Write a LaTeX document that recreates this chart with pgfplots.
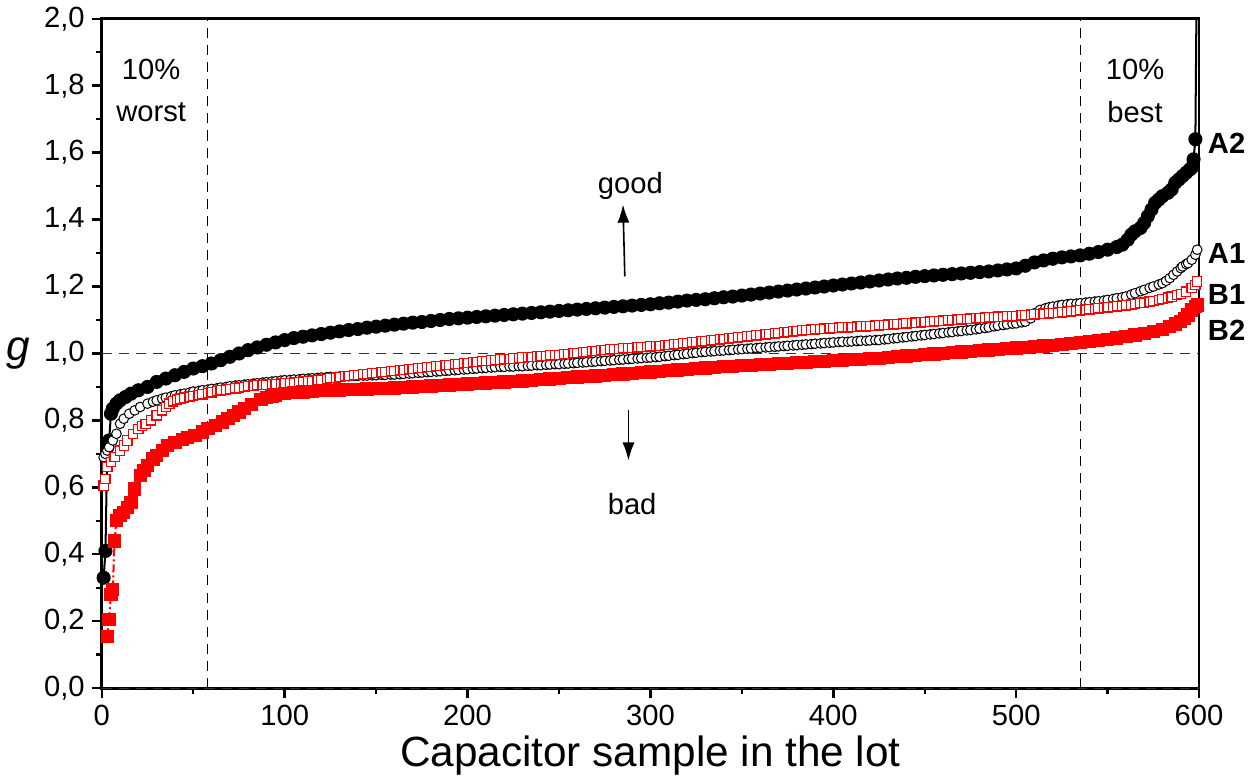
\documentclass[border=0pt]{standalone}
\usepackage{fontspec}
\setmainfont{Liberation Sans}
\usepackage{pgfplots}
\usepackage{pgfplotstable}
\pgfplotsset{compat=1.18}
\usetikzlibrary{arrows.meta}

% g of each lot, sorted
\pgfplotstableread{
x y
1 0.33
2 0.41
3 0.72
4 0.74
5 0.82
6 0.835
8 0.85
10 0.86
13 0.87
16 0.88
20 0.89
25 0.90
30 0.915
35 0.925
40 0.935
45 0.945
50 0.955
55 0.962
60 0.97
65 0.98
70 0.99
75 1.0
80 1.01
85 1.018
90 1.026
95 1.033
100 1.04
105 1.046
110 1.05
115 1.054
120 1.058
125 1.062
130 1.066
135 1.07
140 1.073
145 1.077
150 1.08
155 1.083
160 1.086
165 1.089
170 1.092
175 1.094
180 1.097
185 1.10
190 1.103
195 1.105
200 1.107
205 1.109
210 1.111
215 1.113
220 1.115
225 1.117
230 1.119
235 1.121
240 1.123
245 1.125
250 1.127
255 1.129
260 1.131
265 1.133
270 1.135
275 1.137
280 1.139
285 1.141
290 1.143
295 1.145
300 1.147
305 1.150
310 1.152
315 1.155
320 1.158
325 1.16
330 1.162
335 1.165
340 1.168
345 1.17
350 1.173
355 1.176
360 1.179
365 1.182
370 1.185
375 1.188
380 1.191
385 1.194
390 1.197
395 1.20
400 1.203
405 1.206
410 1.209
415 1.212
420 1.215
425 1.218
430 1.221
435 1.224
440 1.226
445 1.229
450 1.231
455 1.233
460 1.235
465 1.237
470 1.239
475 1.241
480 1.243
485 1.245
490 1.248
495 1.251
500 1.254
505 1.262
510 1.272
515 1.278
520 1.283
525 1.287
530 1.29
535 1.293
540 1.298
545 1.303
550 1.31
555 1.318
558 1.325
561 1.34
563 1.355
565 1.365
568 1.375
570 1.39
572 1.41
574 1.43
576 1.45
578 1.46
580 1.47
583 1.48
585 1.49
587 1.51
589 1.52
591 1.53
593 1.54
595 1.55
596 1.555
597 1.58
598 1.64
599 2.3
}\dataAtwo

\pgfplotstableread{
x y
1 0.69
2 0.70
3 0.71
4 0.72
6 0.74
8 0.76
10 0.79
12 0.805
15 0.82
18 0.83
21 0.84
25 0.85
28 0.856
30 0.86
33 0.865
35 0.868
38 0.872
40 0.875
43 0.878
45 0.88
48 0.883
50 0.886
53 0.888
55 0.89
58 0.892
60 0.894
63 0.896
65 0.898
68 0.9
70 0.902
73 0.904
75 0.905
78 0.907
80 0.908
83 0.91
85 0.911
88 0.913
90 0.914
93 0.916
95 0.917
98 0.919
100 0.92
103 0.921
105 0.922
108 0.923
110 0.924
113 0.925
115 0.926
118 0.927
120 0.928
123 0.929
125 0.93
128 0.93
130 0.931
133 0.932
135 0.932
138 0.933
140 0.933
143 0.934
145 0.934
148 0.935
150 0.935
153 0.936
155 0.936
158 0.937
160 0.937
163 0.938
165 0.939
168 0.94
170 0.941
173 0.942
175 0.943
178 0.944
180 0.945
183 0.946
185 0.947
188 0.948
190 0.949
193 0.95
195 0.951
198 0.952
200 0.953
203 0.954
205 0.955
208 0.956
210 0.957
213 0.958
215 0.959
218 0.96
220 0.96
223 0.961
225 0.961
228 0.962
230 0.962
233 0.963
235 0.964
238 0.965
240 0.965
243 0.966
245 0.967
248 0.968
250 0.968
253 0.969
255 0.97
258 0.971
260 0.972
263 0.973
265 0.974
268 0.975
270 0.976
273 0.977
275 0.978
278 0.979
280 0.98
283 0.981
285 0.982
288 0.983
290 0.984
293 0.985
295 0.986
298 0.987
300 0.988
303 0.989
305 0.99
308 0.992
310 0.993
313 0.995
315 0.996
318 0.998
320 0.999
323 1.001
325 1.002
328 1.004
330 1.005
333 1.006
335 1.007
338 1.008
340 1.009
343 1.01
345 1.011
348 1.012
350 1.013
353 1.014
355 1.015
358 1.016
360 1.017
363 1.018
365 1.019
368 1.02
370 1.021
373 1.022
375 1.023
378 1.024
380 1.025
383 1.026
385 1.027
388 1.028
390 1.029
393 1.03
395 1.031
398 1.032
400 1.033
403 1.034
405 1.035
408 1.035
410 1.036
413 1.037
415 1.038
418 1.038
420 1.039
423 1.04
425 1.04
428 1.042
430 1.043
433 1.045
435 1.046
438 1.048
440 1.049
443 1.051
445 1.052
448 1.054
450 1.055
453 1.057
455 1.058
458 1.06
460 1.061
463 1.063
465 1.064
468 1.066
470 1.067
473 1.069
475 1.07
478 1.072
480 1.074
483 1.076
485 1.078
488 1.081
490 1.083
493 1.085
495 1.087
498 1.089
500 1.09
503 1.093
505 1.095
508 1.105
510 1.12
513 1.13
516 1.135
518 1.138
520 1.14
523 1.143
525 1.145
528 1.147
530 1.148
533 1.149
535 1.15
538 1.152
540 1.153
543 1.155
545 1.156
548 1.158
550 1.16
553 1.163
555 1.165
558 1.168
560 1.17
563 1.176
565 1.18
568 1.186
570 1.19
573 1.196
575 1.2
578 1.206
580 1.21
582 1.217
584 1.225
586 1.235
588 1.245
590 1.255
591 1.26
593 1.267
594 1.27
596 1.28
598 1.295
599 1.31
}\dataAone

\pgfplotstableread{
x y
1 0.605
2 0.625
3 0.66
5 0.675
7 0.69
10 0.71
12 0.725
14 0.74
17 0.76
20 0.775
22 0.783
24 0.79
27 0.80
30 0.815
33 0.83
35 0.84
37 0.85
39 0.857
41 0.862
43 0.865
45 0.868
48 0.871
50 0.873
53 0.876
55 0.878
58 0.882
60 0.884
63 0.888
65 0.89
68 0.892
70 0.894
73 0.896
75 0.898
78 0.9
80 0.902
83 0.904
85 0.905
88 0.906
90 0.907
93 0.908
95 0.909
98 0.91
100 0.911
103 0.912
105 0.913
108 0.915
110 0.916
113 0.918
115 0.919
118 0.921
120 0.922
123 0.924
125 0.926
128 0.928
130 0.93
133 0.932
135 0.933
138 0.935
140 0.936
143 0.938
145 0.939
148 0.941
150 0.942
153 0.944
155 0.945
158 0.947
160 0.948
163 0.95
165 0.951
168 0.953
170 0.954
173 0.956
175 0.957
178 0.959
180 0.96
183 0.962
185 0.963
188 0.965
190 0.966
193 0.968
195 0.969
198 0.971
200 0.972
203 0.974
205 0.975
208 0.977
210 0.978
213 0.979
215 0.98
218 0.982
220 0.983
223 0.984
225 0.985
228 0.987
230 0.988
233 0.989
235 0.99
238 0.991
240 0.992
243 0.993
245 0.994
248 0.995
250 0.996
253 0.998
255 0.999
258 1.001
260 1.002
263 1.004
265 1.005
268 1.007
270 1.008
273 1.01
275 1.011
278 1.012
280 1.013
283 1.014
285 1.015
288 1.016
290 1.017
293 1.018
295 1.019
298 1.02
300 1.021
303 1.022
305 1.023
308 1.025
310 1.026
313 1.027
315 1.028
318 1.03
320 1.031
323 1.033
325 1.034
328 1.036
330 1.037
333 1.039
335 1.04
338 1.042
340 1.043
343 1.045
345 1.046
348 1.048
350 1.049
353 1.051
355 1.052
358 1.054
360 1.055
363 1.057
365 1.058
368 1.06
370 1.061
373 1.063
375 1.064
378 1.066
380 1.067
383 1.069
385 1.07
388 1.071
390 1.072
393 1.073
395 1.074
398 1.075
400 1.076
403 1.077
405 1.078
408 1.078
410 1.079
413 1.08
415 1.081
418 1.081
420 1.082
423 1.083
425 1.084
428 1.085
430 1.086
433 1.087
435 1.088
438 1.089
440 1.09
443 1.091
445 1.092
448 1.093
450 1.094
453 1.095
455 1.096
458 1.097
460 1.098
463 1.099
465 1.1
468 1.101
470 1.102
473 1.103
475 1.104
478 1.105
480 1.106
483 1.107
485 1.108
488 1.109
490 1.11
493 1.11
495 1.111
498 1.111
500 1.112
503 1.114
505 1.115
508 1.116
510 1.117
513 1.118
515 1.119
518 1.12
520 1.121
523 1.122
525 1.123
528 1.125
530 1.126
533 1.128
535 1.129
538 1.131
540 1.132
543 1.134
545 1.135
548 1.137
550 1.138
553 1.14
555 1.141
558 1.143
560 1.144
563 1.146
565 1.148
568 1.15
570 1.152
573 1.155
575 1.157
578 1.16
580 1.163
583 1.167
585 1.17
588 1.175
590 1.178
593 1.185
596 1.195
598 1.205
599 1.215
}\dataBone

\pgfplotstableread{
x y
3 0.155
4 0.205
5 0.28
6 0.295
7 0.44
8 0.50
10 0.515
12 0.525
14 0.54
16 0.555
18 0.595
21 0.635
23 0.65
25 0.665
28 0.685
30 0.695
33 0.71
36 0.725
40 0.735
44 0.742
47 0.748
51 0.755
55 0.765
58 0.775
62 0.785
66 0.795
69 0.805
72 0.815
75 0.825
78 0.835
82 0.848
87 0.862
90 0.868
93 0.873
95 0.876
100 0.88
105 0.883
110 0.885
115 0.887
120 0.889
125 0.89
130 0.891
135 0.892
140 0.893
145 0.894
150 0.895
155 0.896
160 0.897
165 0.899
170 0.9
175 0.902
180 0.903
185 0.905
190 0.906
195 0.908
200 0.909
205 0.911
210 0.912
215 0.914
220 0.915
225 0.917
230 0.918
235 0.92
240 0.922
245 0.924
250 0.926
255 0.928
260 0.93
265 0.932
270 0.933
275 0.935
280 0.937
285 0.939
290 0.941
295 0.943
300 0.945
305 0.947
310 0.949
315 0.951
320 0.953
325 0.955
330 0.957
335 0.959
340 0.96
345 0.962
350 0.963
355 0.965
360 0.966
365 0.968
370 0.969
375 0.971
380 0.972
385 0.974
390 0.975
395 0.977
400 0.978
405 0.98
410 0.981
415 0.983
420 0.984
425 0.986
430 0.988
435 0.99
440 0.992
445 0.994
450 0.996
455 0.998
460 1.0
465 1.002
470 1.004
475 1.006
480 1.008
485 1.01
490 1.012
495 1.014
500 1.016
505 1.018
510 1.02
515 1.022
520 1.024
525 1.026
530 1.029
535 1.032
540 1.035
545 1.038
550 1.042
555 1.046
560 1.05
565 1.055
570 1.06
575 1.066
580 1.072
584 1.08
587 1.088
590 1.096
592 1.105
594 1.115
596 1.13
598 1.14
599 1.145
}\dataBtwo

\begin{document}
\begin{tikzpicture}
\begin{axis}[
  scale only axis,
  width=545pt, height=332.5pt,
  xmin=0, xmax=600, ymin=0, ymax=2,
  xtick={0,100,...,600},
  ytick={0,0.2,...,2.01},
  minor x tick num=1,
  minor y tick num=1,
  tick align=outside,
  xtick pos=bottom, ytick pos=left,
  major tick length=5pt, minor tick length=3pt,
  every tick/.style={black, line width=1.2pt},
  axis line style={line width=1.4pt},
  /pgf/number format/assume math mode=true,
  tick label style={font=\fontsize{14.5}{17}\selectfont},
  yticklabel style={/pgf/number format/.cd, fixed, fixed zerofill, precision=1, use comma},
  xticklabel style={/pgf/number format/.cd, fixed, precision=0},
  xlabel={Capacitor sample in the lot},
  xlabel style={font=\fontsize{21}{25}\selectfont, yshift=2pt},
  ylabel={\textit{g}},
  ylabel style={font=\fontsize{21}{25}\selectfont, rotate=-90},
  clip mode=individual,
]
% reference lines
\addplot [black, line width=0.5pt, dash pattern=on 5pt off 3.5pt] coordinates {(58,0) (58,2)};
\addplot [black, line width=0.5pt, dash pattern=on 5pt off 3.5pt] coordinates {(535,0) (535,2)};
\addplot [black!80, line width=0.5pt, dash pattern=on 5pt off 3.5pt] coordinates {(0,1) (600,1)};
\addplot [black!80, line width=0.5pt, dash pattern=on 5pt off 3.5pt] coordinates {(0,0) (600,0)};

% lots
\addplot [black, line width=1pt, mark=*, mark size=3pt,
  mark options={solid, fill=black}] table {\dataAtwo};
\addplot [black, line width=0.5pt, dashed, mark=*, mark size=2.4pt,
  mark options={solid, fill=white, line width=0.5pt}] table {\dataAone};
\addplot [red, line width=0.5pt, dotted, mark=square*, mark size=2.3pt,
  mark options={solid, fill=white, line width=0.6pt}] table {\dataBone};
\addplot [red, line width=1pt, dash pattern=on 4pt off 1.5pt on 1pt off 1.5pt, mark=square*, mark size=2.8pt,
  mark options={solid, fill=red}] table {\dataBtwo};

% annotations
\begin{scope}[font=\fontsize{14.5}{17}\selectfont]
\node at (axis cs:27,1.85) {10\%};
\node at (axis cs:27,1.72) {worst};
\node at (axis cs:565,1.85) {10\%};
\node at (axis cs:565,1.72) {best};
\node at (axis cs:289,1.50) {good};
\node at (axis cs:290,0.55) {bad};
\node[anchor=west, font=\fontsize{14.5}{17}\selectfont\bfseries] at (axis cs:601,1.627) {A2};
\node[anchor=west, font=\fontsize{14.5}{17}\selectfont\bfseries] at (axis cs:601,1.30) {A1};
\node[anchor=west, font=\fontsize{14.5}{17}\selectfont\bfseries] at (axis cs:601,1.176) {B1};
\node[anchor=west, font=\fontsize{14.5}{17}\selectfont\bfseries] at (axis cs:601,1.068) {B2};
\end{scope}
\draw[-{Latex[length=9pt,width=6pt]}, line width=0.8pt] (axis cs:286,1.23) -- (axis cs:285,1.445);
\draw[-{Latex[length=9pt,width=6pt]}, line width=0.8pt] (axis cs:288,0.83) -- (axis cs:288,0.68);
\end{axis}
\end{tikzpicture}
\end{document}
